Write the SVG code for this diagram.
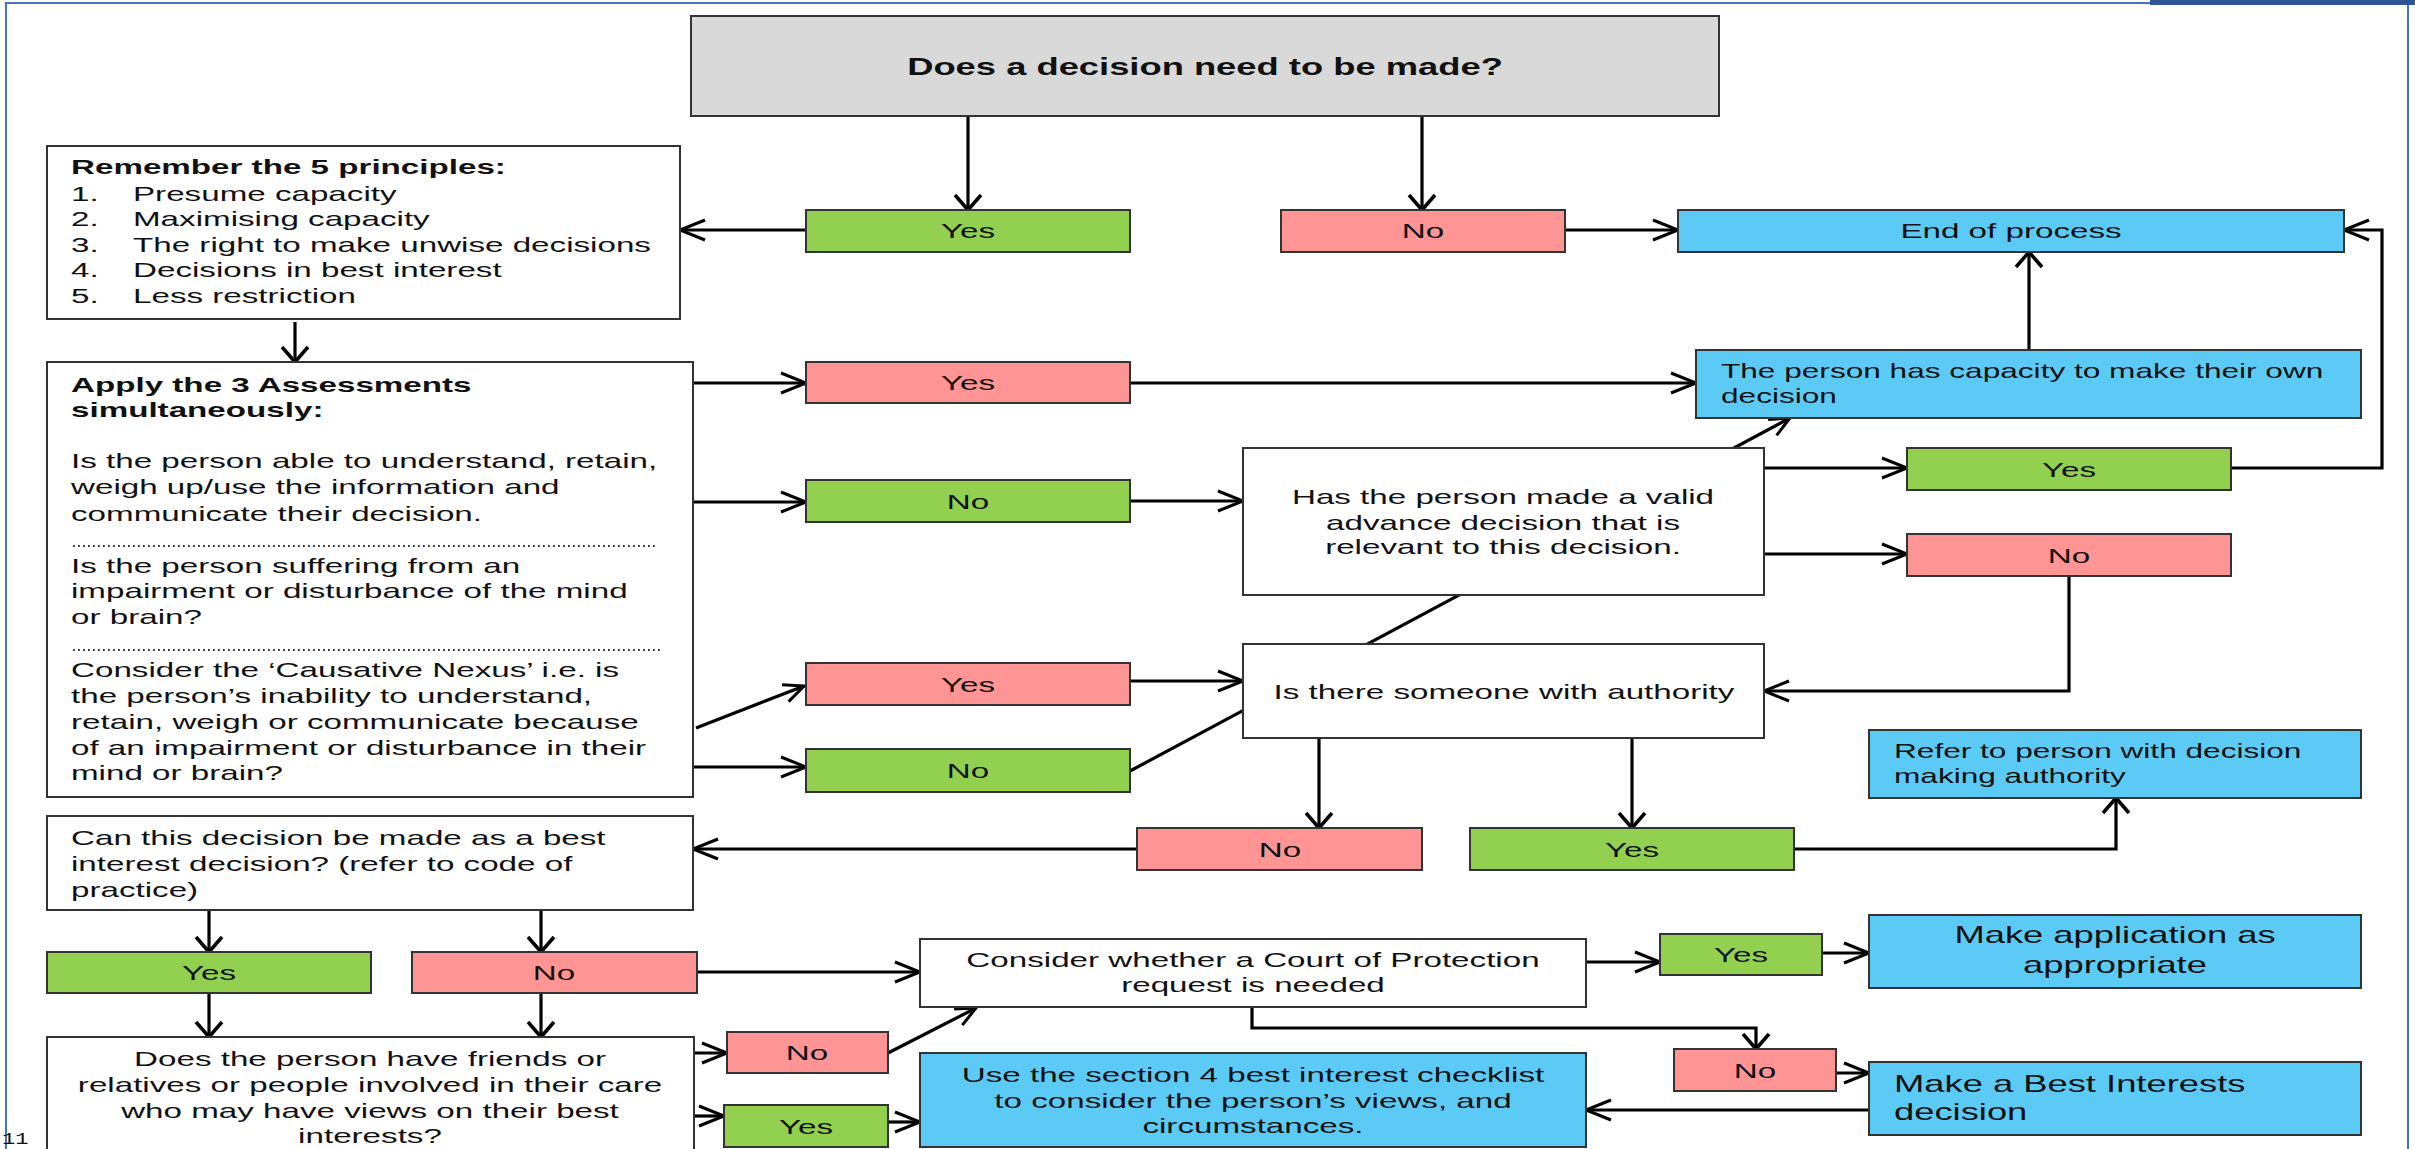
<svg xmlns="http://www.w3.org/2000/svg" width="2415" height="1149" viewBox="0 0 2415 1149">
<style>
.box{stroke:#333;stroke-width:2}
.w{fill:#fff}.g{fill:#92D050}.p{fill:#FF9494}.b{fill:#5BCBF5}.gr{fill:#D9D9D9}
.t{font-family:"Liberation Sans",Arial,sans-serif;font-size:21px;fill:#111}
.hb{font-weight:bold}
.lg{font-size:23px}
.c{stroke:#000;stroke-width:3.2;fill:none}
.ch{marker-end:url(#ah)}.cv{marker-end:url(#av)}.cd{marker-end:url(#ad)}
.dot{stroke:#333;stroke-width:1.8;stroke-dasharray:1.8 3.2}
</style>
<defs>
<marker id="ah" markerUnits="userSpaceOnUse" orient="auto" markerWidth="30" markerHeight="24" refX="26" refY="11" overflow="visible"><path d="M1,1 L26,11 L1,21" fill="none" stroke="#000" stroke-width="3"/></marker>
<marker id="av" markerUnits="userSpaceOnUse" orient="auto" markerWidth="20" markerHeight="30" refX="16" refY="14" overflow="visible"><path d="M1,1 L16,14 L1,27" fill="none" stroke="#000" stroke-width="3.5"/></marker>
<marker id="ad" markerUnits="userSpaceOnUse" orient="auto" markerWidth="24" markerHeight="24" refX="21" refY="11" overflow="visible"><path d="M1,2 L21,11 L1,20" fill="none" stroke="#000" stroke-width="3"/></marker>
</defs>
<rect x="0" y="0" width="2415" height="1149" fill="#fff"/>
<g id="frame">
<path d="M6,1149 V3 H2408 V1149" fill="none" stroke="#4472C4" stroke-width="2"/>
<rect x="2150" y="0" width="265" height="5" fill="#2F5597"/>
<text class="t" transform="translate(2 1144) scale(1.3 1)" style="font-size:17px;font-family:'Liberation Mono',monospace">11</text>
</g>
<g id="connectors">
<path class="c cv" d="M968,116 V210"/>
<path class="c cv" d="M1422,116 V210"/>
<path class="c ch" d="M806,230 H680"/>
<path class="c ch" d="M1565,230 H1678"/>
<path class="c cv" d="M295,322 V362"/>
<path class="c ch" d="M693,383 H806"/>
<path class="c ch" d="M1130,383 H1696"/>
<path class="c cv" d="M2029,350 V252"/>
<path class="c ch" d="M693,502 H806"/>
<path class="c ch" d="M1130,501 H1243"/>
<path class="c cd" d="M696,728 L804,686"/>
<path class="c ch" d="M693,767 H806"/>
<path class="c ch" d="M1130,681 H1243"/>
<path class="c cd" d="M1130,771 L1790,418"/>
<path class="c ch" d="M1764,468 H1907"/>
<path class="c ch" d="M2231,468 H2382 V230 H2344"/>
<path class="c ch" d="M1764,554 H1907"/>
<path class="c ch" d="M2069,576 V691 H1764"/>
<path class="c cv" d="M1319,738 V828"/>
<path class="c cv" d="M1632,738 V828"/>
<path class="c ch" d="M1137,849 H693"/>
<path class="c cv" d="M1794,849 H2116 V798"/>
<path class="c cv" d="M209,910 V952"/>
<path class="c cv" d="M541,910 V952"/>
<path class="c cv" d="M209,993 V1037"/>
<path class="c cv" d="M541,993 V1037"/>
<path class="c ch" d="M697,972 H920"/>
<path class="c ch" d="M694,1053 H727"/>
<path class="c ch" d="M694,1116 H724"/>
<path class="c cd" d="M888,1053 L976,1008"/>
<path class="c ch" d="M888,1122 H920"/>
<path class="c ch" d="M1586,962 H1660"/>
<path class="c ch" d="M1822,953 H1869"/>
<path class="c cv" d="M1252,1007 V1028 H1756 V1049"/>
<path class="c ch" d="M1836,1073 H1869"/>
<path class="c ch" d="M1869,1110 H1586"/>
</g>
<g id="n-decision"><rect class="box gr" x="691" y="16" width="1028" height="100"/>
<text class="t hb lg" text-anchor="middle" transform="translate(1205 75) scale(1.58 1)">Does a decision need to be made?</text></g>
<g id="n-yes1"><rect class="box g" x="806" y="210" width="324" height="42"/><text class="t" text-anchor="middle" transform="translate(968 238) scale(1.58 1)">Yes</text></g>
<g id="n-no1"><rect class="box p" x="1281" y="210" width="284" height="42"/><text class="t" text-anchor="middle" transform="translate(1423 238) scale(1.58 1)">No</text></g>
<g id="n-end"><rect class="box b" x="1678" y="210" width="666" height="42"/><text class="t" text-anchor="middle" transform="translate(2011 238) scale(1.58 1)">End of process</text></g>
<g id="n-principles"><rect class="box w" x="47" y="146" width="633" height="173"/>
<text class="t" transform="translate(71 174) scale(1.58 1)"><tspan class="hb" x="0" y="0">Remember the 5 principles:</tspan></text>
<text class="t" transform="translate(71 0) scale(1.58 1)"><tspan x="0" y="201">1.</tspan><tspan x="0" y="226">2.</tspan><tspan x="0" y="252">3.</tspan><tspan x="0" y="277">4.</tspan><tspan x="0" y="303">5.</tspan></text>
<text class="t" transform="translate(133 0) scale(1.58 1)"><tspan x="0" y="201">Presume capacity</tspan><tspan x="0" y="226">Maximising capacity</tspan><tspan x="0" y="252">The right to make unwise decisions</tspan><tspan x="0" y="277">Decisions in best interest</tspan><tspan x="0" y="303">Less restriction</tspan></text></g>
<g id="n-assess"><rect class="box w" x="47" y="362" width="646" height="435"/>
<text class="t" transform="translate(71 0) scale(1.58 1)"><tspan class="hb" x="0" y="392">Apply the 3 Assessments</tspan><tspan class="hb" x="0" y="417">simultaneously:</tspan><tspan x="0" y="468">Is the person able to understand, retain,</tspan><tspan x="0" y="494">weigh up/use the information and</tspan><tspan x="0" y="521">communicate their decision.</tspan><tspan x="0" y="573">Is the person suffering from an</tspan><tspan x="0" y="598">impairment or disturbance of the mind</tspan><tspan x="0" y="624">or brain?</tspan><tspan x="0" y="677">Consider the ‘Causative Nexus’ i.e. is</tspan><tspan x="0" y="703">the person’s inability to understand,</tspan><tspan x="0" y="729">retain, weigh or communicate because</tspan><tspan x="0" y="755">of an impairment or disturbance in their</tspan><tspan x="0" y="780">mind or brain?</tspan></text>
<line class="dot" x1="73" y1="546" x2="656" y2="546"/><line class="dot" x1="73" y1="650" x2="663" y2="650"/></g>
<g id="n-yes2"><rect class="box p" x="806" y="362" width="324" height="41"/><text class="t" text-anchor="middle" transform="translate(968 390) scale(1.58 1)">Yes</text></g>
<g id="n-capacity"><rect class="box b" x="1696" y="350" width="665" height="68"/>
<text class="t" style="font-size:20px" transform="translate(1721 0) scale(1.58 1)"><tspan x="0" y="378">The person has capacity to make their own</tspan><tspan x="0" y="403">decision</tspan></text></g>
<g id="n-no3"><rect class="box g" x="806" y="480" width="324" height="42"/><text class="t" text-anchor="middle" transform="translate(968 509) scale(1.58 1)">No</text></g>
<g id="n-advance"><rect class="box w" x="1243" y="448" width="521" height="147"/>
<text class="t" text-anchor="middle" transform="translate(1503 0) scale(1.58 1)"><tspan x="0" y="504">Has the person made a valid</tspan><tspan x="0" y="530">advance decision that is</tspan><tspan x="0" y="554">relevant to this decision.</tspan></text></g>
<g id="n-yes-adv"><rect class="box g" x="1907" y="448" width="324" height="42"/><text class="t" text-anchor="middle" transform="translate(2069 477) scale(1.58 1)">Yes</text></g>
<g id="n-no-adv"><rect class="box p" x="1907" y="534" width="324" height="42"/><text class="t" text-anchor="middle" transform="translate(2069 563) scale(1.58 1)">No</text></g>
<g id="n-yes4"><rect class="box p" x="806" y="663" width="324" height="42"/><text class="t" text-anchor="middle" transform="translate(968 692) scale(1.58 1)">Yes</text></g>
<g id="n-no5"><rect class="box g" x="806" y="749" width="324" height="43"/><text class="t" text-anchor="middle" transform="translate(968 778) scale(1.58 1)">No</text></g>
<g id="n-authority"><rect class="box w" x="1243" y="644" width="521" height="94"/>
<text class="t" text-anchor="middle" transform="translate(1504 699) scale(1.58 1)">Is there someone with authority</text></g>
<g id="n-refer"><rect class="box b" x="1869" y="730" width="492" height="68"/>
<text class="t" style="font-size:20px" transform="translate(1894 0) scale(1.58 1)"><tspan x="0" y="758">Refer to person with decision</tspan><tspan x="0" y="783">making authority</tspan></text></g>
<g id="n-no6"><rect class="box p" x="1137" y="828" width="285" height="42"/><text class="t" text-anchor="middle" transform="translate(1280 857) scale(1.58 1)">No</text></g>
<g id="n-yes6"><rect class="box g" x="1470" y="828" width="324" height="42"/><text class="t" text-anchor="middle" transform="translate(1632 857) scale(1.58 1)">Yes</text></g>
<g id="n-bestinterest"><rect class="box w" x="47" y="816" width="646" height="94"/>
<text class="t" transform="translate(71 0) scale(1.58 1)"><tspan x="0" y="845">Can this decision be made as a best</tspan><tspan x="0" y="871">interest decision? (refer to code of</tspan><tspan x="0" y="897">practice)</tspan></text></g>
<g id="n-yes7"><rect class="box g" x="47" y="952" width="324" height="41"/><text class="t" text-anchor="middle" transform="translate(209 980) scale(1.58 1)">Yes</text></g>
<g id="n-no7"><rect class="box p" x="412" y="952" width="285" height="41"/><text class="t" text-anchor="middle" transform="translate(554 980) scale(1.58 1)">No</text></g>
<g id="n-court"><rect class="box w" x="920" y="939" width="666" height="68"/>
<text class="t" text-anchor="middle" transform="translate(1253 0) scale(1.58 1)"><tspan x="0" y="967">Consider whether a Court of Protection</tspan><tspan x="0" y="992">request is needed</tspan></text></g>
<g id="n-friends"><rect class="box w" x="47" y="1037" width="647" height="130"/>
<text class="t" text-anchor="middle" transform="translate(370 0) scale(1.58 1)"><tspan x="0" y="1066">Does the person have friends or</tspan><tspan x="0" y="1092">relatives or people involved in their care</tspan><tspan x="0" y="1118">who may have views on their best</tspan><tspan x="0" y="1143">interests?</tspan></text></g>
<g id="n-no8"><rect class="box p" x="727" y="1032" width="161" height="41"/><text class="t" text-anchor="middle" transform="translate(807 1060) scale(1.58 1)">No</text></g>
<g id="n-yes8"><rect class="box g" x="724" y="1105" width="164" height="42"/><text class="t" text-anchor="middle" transform="translate(806 1134) scale(1.58 1)">Yes</text></g>
<g id="n-checklist"><rect class="box b" x="920" y="1053" width="666" height="94"/>
<text class="t" text-anchor="middle" transform="translate(1253 0) scale(1.58 1)"><tspan x="0" y="1082">Use the section 4 best interest checklist</tspan><tspan x="0" y="1108">to consider the person’s views, and</tspan><tspan x="0" y="1133">circumstances.</tspan></text></g>
<g id="n-yes9"><rect class="box g" x="1660" y="934" width="162" height="41"/><text class="t" text-anchor="middle" transform="translate(1741 962) scale(1.58 1)">Yes</text></g>
<g id="n-application"><rect class="box b" x="1869" y="915" width="492" height="73"/>
<text class="t lg" text-anchor="middle" transform="translate(2115 0) scale(1.58 1)"><tspan x="0" y="943">Make application as</tspan><tspan x="0" y="973">appropriate</tspan></text></g>
<g id="n-no9"><rect class="box p" x="1674" y="1049" width="162" height="42"/><text class="t" text-anchor="middle" transform="translate(1755 1078) scale(1.58 1)">No</text></g>
<g id="n-makebi"><rect class="box b" x="1869" y="1062" width="492" height="73"/>
<text class="t lg" transform="translate(1894 0) scale(1.58 1)"><tspan x="0" y="1092">Make a Best Interests</tspan><tspan x="0" y="1120">decision</tspan></text></g>
</svg>
